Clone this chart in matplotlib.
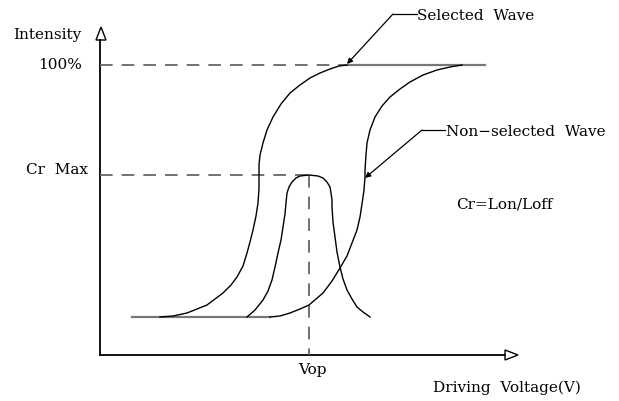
import matplotlib
matplotlib.use("Agg")
import numpy as np
import matplotlib.pyplot as plt
from matplotlib.patches import Polygon

# schematic drawn in picture pixels (x right, y down)
W, H = 619, 401

# curves
sel_x = [160, 173, 187, 197, 207, 215, 223, 231, 237, 243, 247, 250, 253, 256, 258, 259,
         259, 259, 260, 263, 267, 273, 281, 290, 300, 310, 320, 330, 339, 347]
sel_y = [317, 316, 313, 309, 305, 299, 293, 285, 277, 266, 253, 242, 230, 216, 203, 189,
         175, 165, 155, 143, 130, 117, 104, 93, 85, 78, 73, 69, 66, 65]

non_x = [270, 280, 290, 300, 309, 316, 323, 332, 340, 347, 352, 357, 360, 362, 364, 365,
         365, 366, 367, 370, 375, 382, 390, 400, 410, 423, 437, 450, 462]
non_y = [317, 316, 313, 309, 305, 299, 293, 281, 268, 256, 243, 230, 217, 204, 190, 177,
         170, 155, 143, 130, 117, 106, 97, 89, 82, 75, 70, 67, 65]

cr_x = [247, 255, 263, 268, 272, 275, 278, 281, 283, 285, 286, 287, 289, 292, 296, 300,
        309, 318, 323, 327, 330, 331, 332, 332, 333, 335, 337, 340, 343, 347, 352, 357,
        363, 370]
cr_y = [317, 310, 300, 291, 280, 267, 253, 240, 227, 214, 203, 193, 187, 182, 178, 176,
        175, 176, 178, 182, 187, 193, 200, 207, 222, 237, 252, 267, 279, 290, 299, 307,
        312, 317]

# levels
x0, y0 = 100, 355          # origin of the axes
top_y = 65                 # 100%
crmax_y = 175              # Cr Max
vop_x = 309                # Vop
base_y = 317               # dark level
base_x = (132, 270)
top_x = (347, 485)

fig = plt.figure(figsize=(6.19, 4.01), dpi=100)
ax = fig.add_axes([0, 0, 1, 1])
ax.set_xlim(0, W)
ax.set_ylim(H, 0)
ax.axis("off")

font = dict(family="DejaVu Serif", fontsize=11, color="black")
dash = dict(color="#666666", lw=1.3, dashes=(7, 5))

# axes with open arrow heads
ax.plot([x0, x0], [y0, 40], color="black", lw=1.3)
ax.plot([x0, 505], [y0, y0], color="black", lw=1.3)
ax.add_patch(Polygon([[96, 40], [101, 27], [106, 40]], closed=True,
                     facecolor="white", edgecolor="black", lw=1))
ax.add_patch(Polygon([[505, 350], [518, 355], [505, 360]], closed=True,
                     facecolor="white", edgecolor="black", lw=1))

# guide lines
ax.plot([x0, top_x[0]], [top_y, top_y], **dash)
ax.plot([x0, vop_x], [crmax_y, crmax_y], **dash)
ax.plot([vop_x, vop_x], [crmax_y, y0], **dash)
ax.plot(top_x, [top_y, top_y], color="#777777", lw=1.6)
ax.plot(base_x, [base_y, base_y], color="#777777", lw=1.6)

# curves
for xs, ys in [(sel_x, sel_y), (non_x, non_y), (cr_x, cr_y)]:
    ax.plot(xs, ys, color="black", lw=1.0)

# leaders
ax.plot([417, 393], [14, 14], color="black", lw=0.9)
ax.annotate("", xy=(347, 64), xytext=(393, 14),
            arrowprops=dict(arrowstyle="-|>", color="black", lw=0.9,
                            mutation_scale=8, shrinkA=0, shrinkB=0))
ax.plot([445, 422], [130, 130], color="black", lw=0.9)
ax.annotate("", xy=(365, 178), xytext=(422, 130),
            arrowprops=dict(arrowstyle="-|>", color="black", lw=0.9,
                            mutation_scale=8, shrinkA=0, shrinkB=0))

# labels
ax.text(13, 35, "Intensity", ha="left", va="center", **font)
ax.text(82, 65, "100%", ha="right", va="center", **font)
ax.text(88, 170, "Cr  Max", ha="right", va="center", **font)
ax.text(417, 16, "Selected  Wave", ha="left", va="center", **font)
ax.text(446, 132, "Non\u2212selected  Wave", ha="left", va="center", **font)
ax.text(456, 205, "Cr=Lon/Loff", ha="left", va="center", **font)
ax.text(312, 370, "Vop", ha="center", va="center", **font)
ax.text(433, 388, "Driving  Voltage(V)", ha="left", va="center", **font)

fig.savefig("out.png", dpi=100)
